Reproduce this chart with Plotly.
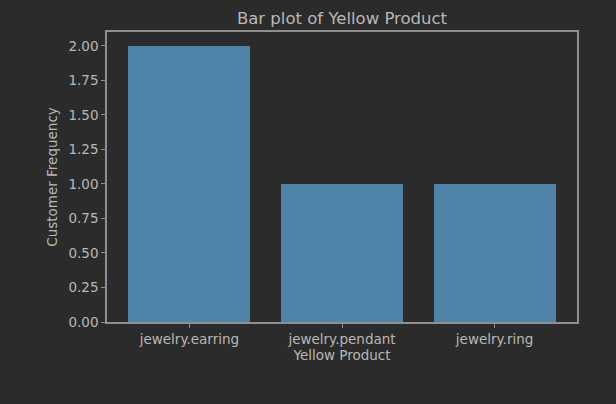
import plotly.graph_objects as go

products = ["jewelry.earring", "jewelry.pendant", "jewelry.ring"]
product_labels = ["jewelry.earring", "jewelry.pendant", "jewelry.ring"]
frequency = [2, 1, 1]
y_ticks = [0.0, 0.25, 0.5, 0.75, 1.0, 1.25, 1.5, 1.75, 2.0]

bg = "#2b2b2b"
txt = "#b8b8b8"
axis_col = "#8f8f8f"

fig = go.Figure()

fig.add_trace(go.Bar(
    x=list(range(len(products))),
    y=frequency,
    width=0.8,
    marker=dict(color="#5083a8", line=dict(width=0)),
))

fig.update_layout(
    title=dict(text="Bar plot of Yellow Product", x=0.5, xref="paper", xanchor="center",
               y=1 - 18 / 404, yref="container", yanchor="middle",
               font=dict(size=16.5, color=txt, family="DejaVu Sans")),
    paper_bgcolor=bg,
    plot_bgcolor=bg,
    font=dict(family="DejaVu Sans", size=13.5, color=txt),
    width=616,
    height=404,
    margin=dict(l=107, r=39, t=32, b=82),
    showlegend=False,
    bargap=0,
)

fig.update_xaxes(
    range=[-0.54, 2.54],
    tickmode="array",
    tickvals=list(range(len(products))),
    ticktext=product_labels,
    showgrid=False,
    zeroline=False,
    showline=True,
    mirror=True,
    linecolor=axis_col,
    linewidth=1.5,
    ticks="outside",
    ticklen=4,
    tickcolor=axis_col,
    tickfont=dict(size=13.5, color=txt),
    title=dict(text="Yellow Product", font=dict(size=13.5, color=txt), standoff=2),
)

fig.update_yaxes(
    range=[0, 2.1],
    tickmode="array",
    tickvals=y_ticks,
    ticktext=["%.2f" % v for v in y_ticks],
    showgrid=False,
    zeroline=False,
    showline=True,
    mirror=True,
    linecolor=axis_col,
    linewidth=1.5,
    ticks="outside",
    ticklen=4,
    tickcolor=axis_col,
    tickfont=dict(size=13.5, color=txt),
    title=dict(text="Customer Frequency", font=dict(size=13.5, color=txt), standoff=8),
)

# drop the page margin so the figure fills the window
fig.write_html("out.html", config={"displayModeBar": False},
               post_script="document.body.style.margin='0';document.body.style.background='#2b2b2b';")
